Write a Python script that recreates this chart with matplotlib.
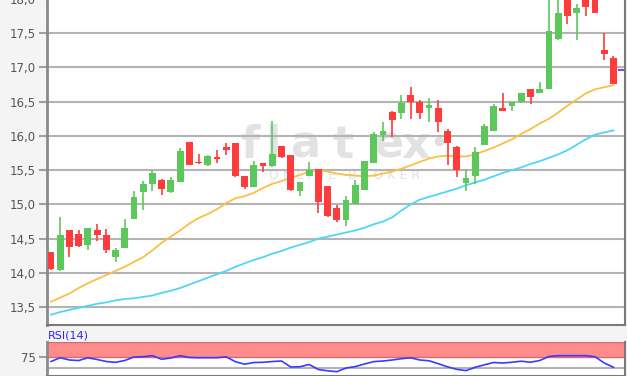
import numpy as np
import matplotlib
matplotlib.use("Agg")
import matplotlib.pyplot as plt
from matplotlib.ticker import FuncFormatter

# daily candles
opens = [14.30, 14.04, 14.63, 14.57, 14.41, 14.62, 14.56, 14.23, 14.36, 14.78,
         15.18, 15.30, 15.36, 15.18, 15.33, 15.91, 15.62, 15.57, 15.69, 15.84,
         15.90, 15.42, 15.26, 15.60, 15.56, 15.85, 15.72, 15.20, 15.41, 15.51,
         15.27, 14.95, 14.77, 15.01, 15.21, 15.60, 16.01, 16.35, 16.33, 16.59,
         16.50, 16.41, 16.41, 16.07, 15.84, 15.31, 15.41, 15.86, 16.07, 16.40,
         16.43, 16.49, 16.68, 16.62, 16.68, 17.41, 18.05, 17.80, 18.02, 18.02,
         17.25, 17.13]
highs = [14.31, 14.81, 14.63, 14.63, 14.66, 14.71, 14.64, 14.36, 14.79, 15.19,
         15.34, 15.50, 15.37, 15.40, 15.83, 15.91, 15.73, 15.72, 15.80, 15.89,
         15.90, 15.42, 15.64, 15.61, 16.22, 15.85, 15.72, 15.32, 15.62, 15.51,
         15.27, 14.99, 15.12, 15.36, 15.64, 16.05, 16.20, 16.36, 16.59, 16.72,
         16.52, 16.56, 16.52, 16.10, 15.85, 15.52, 15.84, 16.18, 16.46, 16.62,
         16.50, 16.62, 16.68, 16.79, 18.10, 18.10, 18.10, 17.93, 18.05, 18.03,
         17.50, 17.16]
lows = [14.04, 14.03, 14.23, 14.38, 14.33, 14.46, 14.29, 14.16, 14.36, 14.78,
        14.92, 15.20, 15.14, 15.17, 15.33, 15.57, 15.59, 15.56, 15.60, 15.72,
        15.40, 15.23, 15.26, 15.47, 15.55, 15.68, 15.20, 15.12, 15.41, 14.87,
        14.82, 14.74, 14.68, 15.01, 15.21, 15.60, 15.93, 15.98, 16.24, 16.25,
        16.24, 16.20, 16.06, 15.57, 15.40, 15.19, 15.30, 15.86, 16.07, 16.37,
        16.37, 16.48, 16.46, 16.62, 16.68, 17.40, 17.63, 17.40, 17.75, 17.80,
        17.11, 16.76]
closes = [14.06, 14.56, 14.38, 14.40, 14.65, 14.55, 14.33, 14.33, 14.65, 15.11,
          15.30, 15.46, 15.23, 15.35, 15.78, 15.58, 15.60, 15.70, 15.67, 15.80,
          15.42, 15.25, 15.58, 15.56, 15.73, 15.69, 15.21, 15.32, 15.50, 15.03,
          14.83, 14.77, 15.07, 15.29, 15.64, 16.03, 16.07, 16.23, 16.48, 16.50,
          16.33, 16.45, 16.20, 15.89, 15.50, 15.38, 15.76, 16.14, 16.43, 16.37,
          16.50, 16.62, 16.57, 16.68, 17.53, 17.79, 17.75, 17.86, 17.88, 17.80,
          17.19, 16.76]

# moving averages (orange = short, cyan = long)
ma_short = [13.58, 13.64, 13.70, 13.78, 13.85, 13.91, 13.97, 14.03, 14.09, 14.16,
            14.23, 14.33, 14.44, 14.53, 14.62, 14.72, 14.80, 14.86, 14.93, 15.02,
            15.09, 15.12, 15.17, 15.24, 15.30, 15.34, 15.39, 15.43, 15.48, 15.50,
            15.48, 15.45, 15.43, 15.42, 15.41, 15.42, 15.45, 15.48, 15.52, 15.57,
            15.62, 15.67, 15.70, 15.71, 15.70, 15.70, 15.73, 15.78, 15.83, 15.89,
            15.95, 16.03, 16.10, 16.18, 16.25, 16.34, 16.44, 16.53, 16.62, 16.68,
            16.71, 16.74]
ma_long = [13.39, 13.43, 13.46, 13.49, 13.52, 13.55, 13.57, 13.60, 13.62, 13.63,
           13.65, 13.67, 13.71, 13.74, 13.78, 13.83, 13.88, 13.93, 13.98, 14.03,
           14.09, 14.14, 14.19, 14.23, 14.28, 14.32, 14.37, 14.41, 14.45, 14.50,
           14.53, 14.56, 14.59, 14.62, 14.66, 14.71, 14.75, 14.81, 14.91, 15.00,
           15.07, 15.11, 15.15, 15.19, 15.23, 15.28, 15.32, 15.36, 15.41, 15.46,
           15.50, 15.54, 15.59, 15.63, 15.68, 15.73, 15.79, 15.87, 15.95, 16.02,
           16.05, 16.08]

rsi = [64.6, 72.8, 67.9, 66.8, 72.6, 69.0, 64.6, 62.9, 66.8, 74.4,
       75.0, 77.2, 69.4, 72.2, 77.2, 73.3, 72.8, 72.8, 72.8, 74.8,
       64.2, 58.8, 62.5, 62.9, 64.6, 65.7, 52.8, 53.4, 58.2, 47.4,
       44.6, 42.7, 50.6, 53.7, 59.3, 64.4, 65.7, 67.9, 70.7, 72.6,
       67.9, 66.2, 59.9, 53.2, 47.8, 45.0, 52.2, 57.5, 62.5, 61.4,
       63.1, 65.3, 63.1, 66.8, 75.4, 77.2, 77.2, 77.2, 77.2, 75.0,
       61.4, 52.2]

last_price = 16.96
price_ticks = [13.5, 14.0, 14.5, 15.0, 15.5, 16.0, 16.5, 17.0, 17.5, 18.0]

GREEN = '#5cc85c'
RED = '#ff3b3b'


def comma(v, pos):
    return f"{v:.1f}".replace('.', ',')


def style_axis(ax):
    ax.set_facecolor('white')
    ax.set_axisbelow(True)
    ax.spines['top'].set_visible(False)
    ax.spines['left'].set_color('#8a8a8a')
    ax.spines['left'].set_linewidth(2)
    for s in ('bottom', 'right'):
        ax.spines[s].set_color('#7a7a7a')
        ax.spines[s].set_linewidth(1.5)
    ax.set_xticks([])
    ax.tick_params(axis='y', length=6, width=1.5, color='#a0a0a0',
                   labelcolor='#555555', labelsize=8.5, pad=2)
    ax.grid(axis='y', color='#b4b4b4', linewidth=1.5)


fig = plt.figure(figsize=(6.27, 3.76), dpi=100, facecolor='#f4f4f4')

ax = fig.add_axes([0.075, 0.1356, 0.922, 0.8766])
style_axis(ax)

x = np.arange(1, len(opens) + 1)
o = np.array(opens)
c = np.array(closes)
up = c >= o
colors = np.where(up, GREEN, RED)

ax.vlines(x, lows, highs, colors=colors, linewidth=1.2, zorder=3)
ax.bar(x, np.abs(c - o), bottom=np.minimum(o, c), width=0.74,
       color=colors, linewidth=0, zorder=4)

ax.plot(x, ma_short, color='#fbbf45', linewidth=1.3, zorder=2)
ax.plot(x, ma_long, color='#4fd6f7', linewidth=1.3, zorder=2)
ax.hlines(last_price, x[-1] + 0.5, x[-1] + 1.3, color='#7b52d6', linewidth=1.5, zorder=5)

ax.set_xlim(0.57, 63.26)
ax.set_ylim(13.24, 18.05)
ax.set_yticks(price_ticks)
ax.yaxis.set_major_formatter(FuncFormatter(comma))

# watermark, drawn inside the price panel below the grid
for ch, xp in zip("flatex", [250, 273, 305, 343, 388, 416]):
    ax.text(xp / 627, (376 - 158) / 376, ch, transform=fig.transFigure,
            fontsize=32, fontweight='bold', color='#e2e2e2',
            ha='center', va='baseline', zorder=0.3)
ax.plot([439 / 627], [(376 - 141) / 376], 'o', transform=fig.transFigure,
        color='#dedede', markersize=6, zorder=0.3, clip_on=False)
ax.text(345 / 627, (376 - 175) / 376, "O N L I N E   B R O K E R",
        transform=fig.transFigure, fontsize=9, color='#e0e0e0',
        ha='center', va='center', zorder=0.3)

# RSI panel
ax2 = fig.add_axes([0.075, 0.0, 0.922, 0.0912])
style_axis(ax2)
ax2.grid(False)
ax2.axhspan(75, 107.3, facecolor='#ff8c8c', edgecolor='#d86a6a', linewidth=1, zorder=1)
ax2.axhline(50, color='#b4b4b4', linewidth=1.5, zorder=1)
ax2.plot(x, rsi, color='#3a3aff', linewidth=1.2, zorder=3)
ax2.set_xlim(0.57, 63.26)
ax2.set_ylim(33.4, 107.3)
ax2.set_yticks([75])
ax2.set_yticklabels(['75'])

fig.text(48 / 627, (376 - 336) / 376, "RSI(14)", fontsize=8, color='#2525ff',
         ha='left', va='center')

fig.savefig('out.png', dpi=100, facecolor=fig.get_facecolor())
